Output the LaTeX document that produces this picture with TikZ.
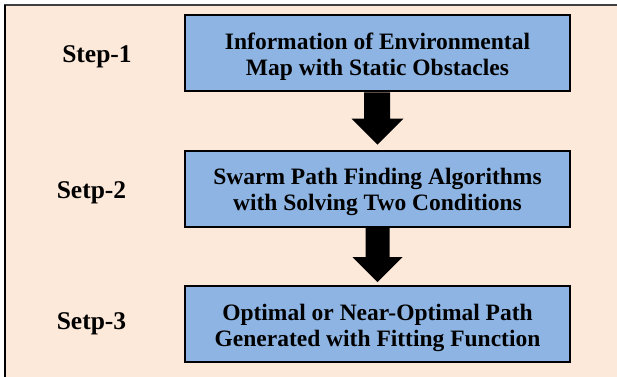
\documentclass[tikz,border=0pt]{standalone}
\usepackage{fontspec}
\setmainfont{Liberation Serif}
\usetikzlibrary{calc}
\definecolor{peach}{RGB}{253,233,217}
\definecolor{boxblue}{RGB}{141,180,226}
\begin{document}
\begin{tikzpicture}[x=1pt,y=-1pt,
  stepbox/.style={draw=black, line width=2pt, fill=boxblue, minimum width=385pt,
    minimum height=76pt, inner sep=0pt},
  boxtext/.style={align=center, inner sep=0pt, yshift=-3.5pt,
    font=\fontsize{23.5}{26}\selectfont\bfseries},
  steplabel/.style={inner sep=0pt, font=\fontsize{25.5}{28}\selectfont\bfseries},
  bigarrow/.style={fill=black, draw=none}]
\useasboundingbox (0,0) rectangle (617,376);
\fill[white] (-5,-5) rectangle (625,385);
\fill[peach] (5,5) rectangle (625,385);
\draw[black!75, line width=2pt] (4,5) -- (625,5);
\draw[black, line width=2pt] (5,5) -- (5,385);
\node[stepbox] (b1) at (377.5,53.3) {};
\node[stepbox] (b2) at (377.5,188.5) {};
\node[stepbox] (b3) at (377.5,324) {};
\node[boxtext] (t1) at (b1.center) {Information of Environmental\\Map with Static Obstacles};
\node[boxtext] (t2) at (b2.center) {Swarm Path Finding Algorithms\\with Solving Two Conditions};
\node[boxtext] (t3) at (b3.center) {Optimal or Near-Optimal Path\\Generated with Fitting Function};
\node[steplabel] (l1) at (97,57) {Step-1};
\node[steplabel] (l2) at (91.5,192.5) {Setp-2};
\node[steplabel] (l3) at (91.5,324) {Setp-3};
\fill[bigarrow] ($(b1.south)+(-13.5,0)$) -- ($(b2.north)+(-13.5,-31)$) -- ($(b2.north)+(-26,-31)$)
  -- ($(b2.north)+(0,-5)$) -- ($(b2.north)+(26,-31)$) -- ($(b2.north)+(12.5,-31)$)
  -- ($(b1.south)+(12.5,0)$) -- cycle;
\fill[bigarrow] ($(b2.south)+(-12,0)$) -- ($(b3.north)+(-12,-28)$) -- ($(b3.north)+(-25,-28)$)
  -- ($(b3.north)+(0,-3)$) -- ($(b3.north)+(25,-28)$) -- ($(b3.north)+(12,-28)$)
  -- ($(b2.south)+(12,0)$) -- cycle;
\end{tikzpicture}
\end{document}
